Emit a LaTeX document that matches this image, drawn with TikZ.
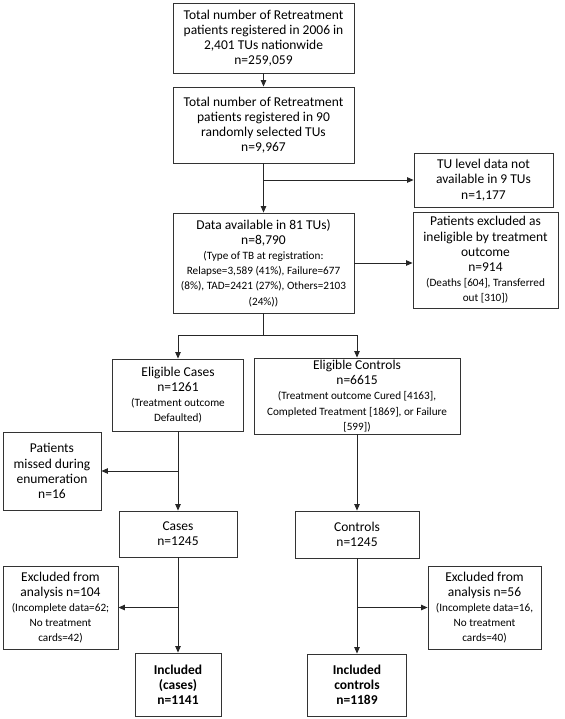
\documentclass[tikz,border=0pt]{standalone}
\usepackage{fontspec}
\setmainfont{Carlito}
\usetikzlibrary{arrows.meta}
\newcommand\mainsz{\fontsize{13.5}{15.2}\selectfont}
\newcommand\smsz{\fontsize{11.2}{12.6}\selectfont}
\tikzset{
  box/.style={draw=black!80, line width=0.9pt, inner sep=0pt, align=center, font=\mainsz},
  arr/.style={draw=black!85, line width=0.8pt, -{Triangle[length=6.5pt,width=5.5pt]}},
  ln/.style={draw=black!85, line width=0.8pt}
}
\begin{document}
\begin{tikzpicture}[x=1pt,y=-1pt]
\useasboundingbox (0,0) rectangle (564,719);
\node[box, minimum width=181pt, minimum height=70pt] (b1) at (263.5,38)
  {Total number of Retreatment\\patients registered in 2006 in\\2,401 TUs nationwide\\n=259,059};
\node[box, minimum width=181pt, minimum height=76pt] (b2) at (263.5,125)
  {Total number of Retreatment\\patients registered in 90\\randomly selected TUs\\n=9,967};
\node[box, minimum width=139pt, minimum height=54pt] (tu) at (483.5,180)
  {TU level data not\\available in 9 TUs\\n=1,177};
\node[box, minimum width=181pt, minimum height=100pt] (b3) at (263.5,263)
  {Data available in 81 TUs)\\n=8,790\\\smsz (Type of TB at registration:\\\smsz Relapse=3,589 (41\%), Failure=677\\\smsz (8\%), TAD=2421 (27\%), Others=2103\\\smsz (24\%))};
\node[box, minimum width=145pt, minimum height=96pt] (ex) at (485.5,260)
  {Patients excluded as\\ineligible by treatment\\outcome\\n=914\\\smsz (Deaths [604], Transferred\\\smsz out [310])};
\coordinate (j) at (263.5,335);
\node[box, minimum width=131pt, minimum height=72pt] (ec) at (178,395)
  {Eligible Cases\\n=1261\\\smsz (Treatment outcome\\\smsz Defaulted)};
\node[box, minimum width=206pt, minimum height=76pt] (eco) at (357,396)
  {Eligible Controls\\n=6615\\\smsz (Treatment outcome Cured [4163],\\\smsz Completed Treatment [1869], or Failure\\\smsz [599])};
\node[box, minimum width=98pt, minimum height=78pt] (mis) at (52,471)
  {Patients\\missed during\\enumeration\\n=16};
\node[box, minimum width=118pt, minimum height=46pt] (cas) at (178,534)
  {Cases\\n=1245};
\node[box, minimum width=124pt, minimum height=47pt] (ctrl) at (357,534.5)
  {Controls\\n=1245};
\node[box, minimum width=115pt, minimum height=83pt] (exl) at (60.5,607.5)
  {Excluded from\\analysis n=104\\\smsz (Incomplete data=62;\\\smsz No treatment\\\smsz cards=42)};
\node[box, minimum width=113pt, minimum height=83pt] (exr) at (484.5,607.5)
  {Excluded from\\analysis n=56\\\smsz (Incomplete data=16,\\\smsz No treatment\\\smsz cards=40)};
\node[box, minimum width=86pt, minimum height=63pt, font=\mainsz\bfseries] (inc) at (178,684.5)
  {Included\\(cases)\\n=1141};
\node[box, minimum width=99pt, minimum height=62pt, font=\mainsz\bfseries] (incctrl) at (357,685)
  {Included\\controls\\n=1189};
\draw[arr] (b1) -- (b2);
\draw[arr] (b2) -- (b3);
\draw[arr] (b2.south |- tu.west) -- (tu.west);
\draw[arr] (b3.east) -- (b3.east -| ex.west);
\draw[ln] (b3.south) -- (j);
\draw[arr] (j) -| (ec.north);
\draw[arr] (j) -| (eco.north);
\draw[arr] (ec) -- (cas);
\draw[arr] (ec.south |- mis.east) -- (mis.east);
\draw[arr] (cas) -- (inc);
\draw[arr] (cas.south |- exl.east) -- (exl.east);
\draw[arr] (eco) -- (ctrl);
\draw[arr] (ctrl) -- (incctrl);
\draw[arr] (ctrl.south |- exr.west) -- (exr.west);
\end{tikzpicture}
\end{document}
